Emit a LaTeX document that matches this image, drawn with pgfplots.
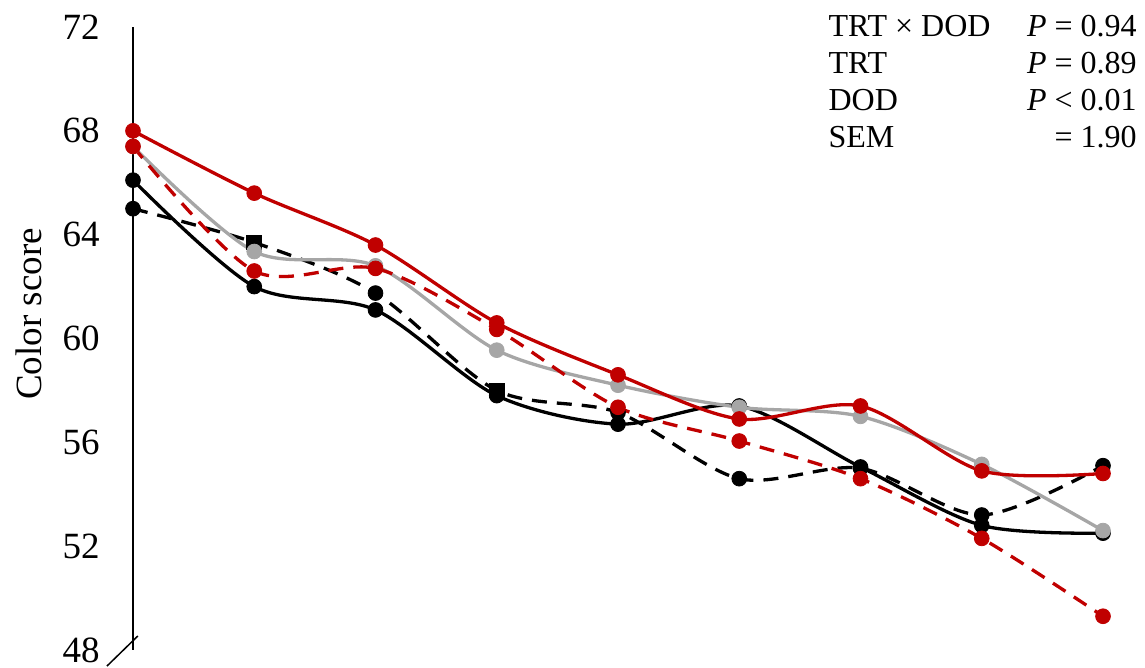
\documentclass[border=0pt]{standalone}
\usepackage{fontspec}
\setmainfont{Liberation Serif}
\usepackage{pgfplots}
\pgfplotsset{compat=1.18}
\definecolor{dred}{HTML}{C00000}
\definecolor{lgray}{HTML}{A6A6A6}
\begin{document}
\begin{tikzpicture}
\useasboundingbox (-66.5pt,-9pt) rectangle (506pt,325pt);
\begin{axis}[
  at={(0pt,0pt)}, anchor=south west,
  scale only axis, width=485pt, height=311.5pt,
  xmin=0, xmax=8, ymin=48, ymax=72,
  axis x line=none,
  axis y line*=left,
  y axis line style={-, line width=0.75pt},
  ytick={48,52,56,60,64,68,72},
  major tick length=0pt,
  /pgf/number format/assume math mode=true,
  yticklabel style={font=\fontsize{18.5}{22}\selectfont, inner sep=0pt, xshift=-16.5pt},
  clip=false,
  every axis plot/.append style={line width=1.65pt, smooth},
]
% black solid
\addplot[black, mark=*, mark size=3.7pt, mark options={solid, line width=0.4pt}] coordinates {
 (0,66.1) (1,62.0) (2,61.1) (3,57.8) (4,56.7) (5,57.4) (6,55.05) (7,52.8) (8,52.5)};
% black dashed
\addplot[black, dash pattern=on 7.5pt off 5pt, no marks] coordinates {
 (0,65.0) (1,63.7) (2,61.75) (3,58.0) (4,57.15) (5,54.6) (6,55.0) (7,53.2) (8,55.1)};
\addplot[black, only marks, mark=*, mark size=3.7pt, mark options={solid, line width=0.4pt}] coordinates {
 (0,65.0) (2,61.75) (4,57.15) (5,54.6) (6,55.0) (7,53.2) (8,55.1)};
\addplot[black, only marks, mark=square*, mark size=3.7pt, mark options={solid, line width=0.4pt}] coordinates {
 (1,63.7) (3,58.0)};
% gray solid
\addplot[lgray, mark=*, mark size=3.7pt, mark options={solid, line width=0.4pt}] coordinates {
 (0,67.4) (1,63.35) (2,62.8) (3,59.55) (4,58.2) (5,57.35) (6,57.0) (7,55.15) (8,52.6)};
% red dashed
\addplot[dred, dash pattern=on 7.5pt off 5pt, mark=*, mark size=3.7pt, mark options={solid, line width=0.4pt}] coordinates {
 (0,67.4) (1,62.6) (2,62.7) (3,60.35) (4,57.35) (5,56.05) (6,54.6) (7,52.3) (8,49.3)};
% red solid
\addplot[dred, mark=*, mark size=3.7pt, mark options={solid, line width=0.4pt}] coordinates {
 (0,68.0) (1,65.6) (2,63.6) (3,60.6) (4,58.6) (5,56.9) (6,57.4) (7,54.9) (8,54.8)};
% axis break
\draw[line width=0.75pt] (axis cs:-0.215,47.38) -- (axis cs:0.04,48.54);
\end{axis}
\node[rotate=90, anchor=base, inner sep=0pt, font=\fontsize{18.5}{22}\selectfont] at (-45.5pt,168pt) {Color score};
\node[anchor=base east, inner sep=0pt, font=\fontsize{16}{18.5}\selectfont] at (502pt,306.5pt) {%
\begin{tabular}[t]{@{}l@{}}
\hbox to 154pt{TRT × DOD\hfill \textit{P} = 0.94}\\
\hbox to 154pt{TRT\hfill \textit{P} = 0.89}\\
\hbox to 154pt{DOD\hfill \textit{P} < 0.01}\\
\hbox to 154pt{SEM\hfill = 1.90}
\end{tabular}};
\end{tikzpicture}
\end{document}
